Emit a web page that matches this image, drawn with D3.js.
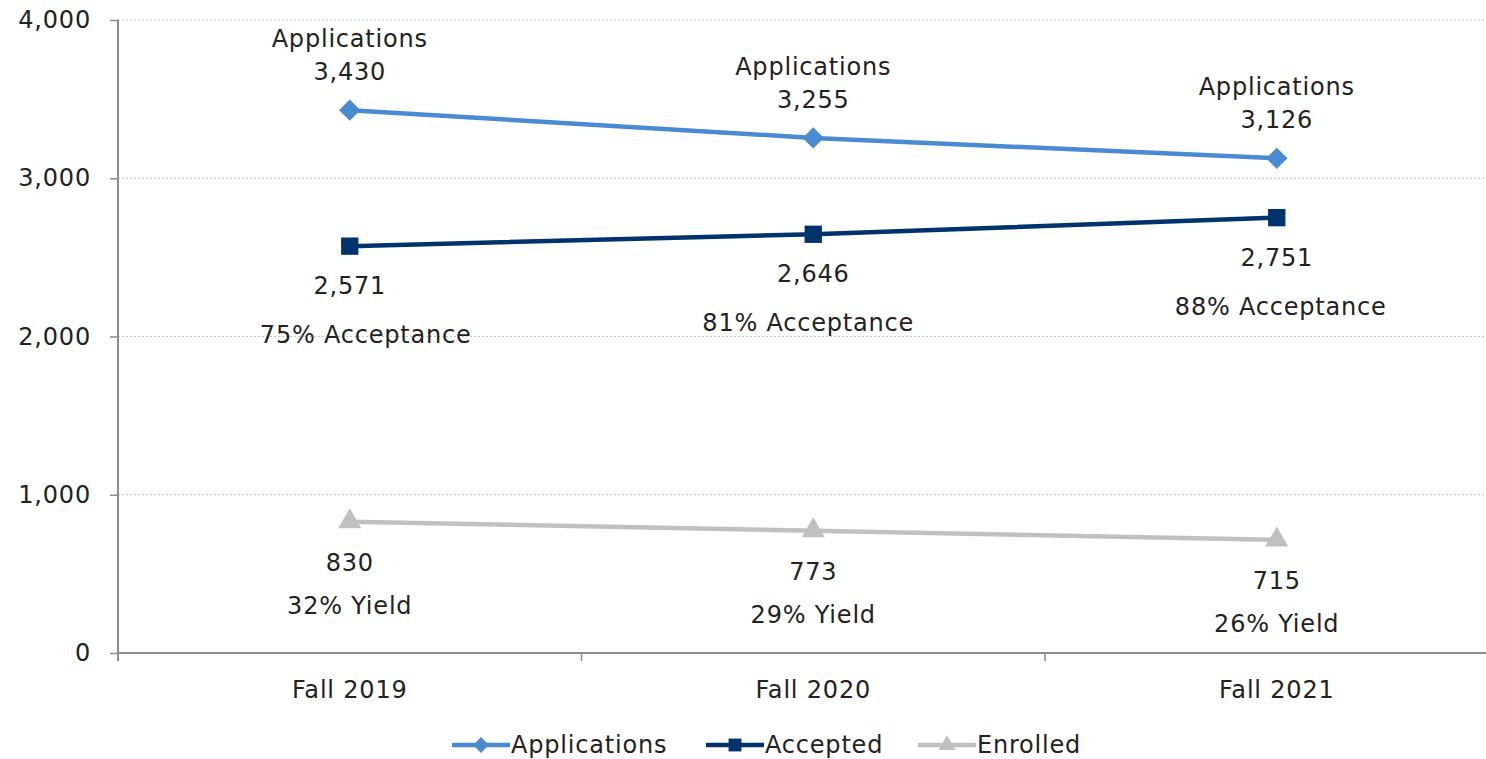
<!DOCTYPE html>
<html><head><meta charset="utf-8">
<script src="https://cdn.jsdelivr.net/npm/d3@7"></script>
<style>
html,body{margin:0;padding:0;background:#fff;}
text{font-family:"DejaVu Sans",Verdana,sans-serif;fill:#222;}
</style></head>
<body><svg id="c" width="1486" height="759"></svg>
<script>
const categories = ["Fall 2019", "Fall 2020", "Fall 2021"];
const applications = [3430, 3255, 3126];
const accepted = [2571, 2646, 2751];
const enrolled = [830, 773, 715];
const acceptanceLabels = ["75% Acceptance", "81% Acceptance", "88% Acceptance"];
const yieldLabels = ["32% Yield", "29% Yield", "26% Yield"];
const yTicks = [0, 1000, 2000, 3000, 4000];

(function () {
const svg = d3.select("#c");
const mLeft = 118, mTop = 20, mBottom = 653, band = 463.5;
const x = d3.scaleBand().domain(categories).range([mLeft, mLeft + band * 3]).padding(0);
const y = d3.scaleLinear().domain([0, 4000]).range([mBottom, mTop]);
const cx = c => x(c) + x.bandwidth() / 2;
const fs = 24, ls = "0.8px";

// gridlines
svg.append("g").selectAll("line").data(yTicks.filter(d => d > 0)).join("line")
  .attr("x1", mLeft).attr("x2", 1486).attr("y1", d => y(d)).attr("y2", d => y(d))
  .attr("stroke", "#c4c4c4").attr("stroke-width", 1).attr("stroke-dasharray", "2,2");

// y axis
const yAxis = svg.append("g").attr("transform", `translate(${mLeft},0)`)
  .call(d3.axisLeft(y).tickValues(yTicks).tickSize(8).tickPadding(19).tickFormat(d3.format(",")));
yAxis.select(".domain").attr("stroke", "#8c8c8c").attr("stroke-width", 2).attr("d", `M0,${mTop}V${mBottom + 8}`);
yAxis.selectAll(".tick line").attr("stroke", "#8c8c8c").attr("stroke-width", 1.5);
yAxis.selectAll("text").attr("font-size", fs).style("letter-spacing", ls).attr("fill", "#222")
  .attr("font-family", '"DejaVu Sans",Verdana,sans-serif');

// x axis
svg.append("line").attr("x1", mLeft).attr("x2", 1486).attr("y1", y(0)).attr("y2", y(0))
  .attr("stroke", "#8c8c8c").attr("stroke-width", 2);
svg.append("g").selectAll("line").data([1, 2]).join("line")
  .attr("x1", i => mLeft + band * i).attr("x2", i => mLeft + band * i)
  .attr("y1", y(0)).attr("y2", y(0) + 8).attr("stroke", "#8c8c8c").attr("stroke-width", 1.5);
svg.append("g").selectAll("text").data(categories).join("text")
  .attr("x", d => cx(d)).attr("y", 698).attr("text-anchor", "middle")
  .attr("font-size", fs).style("letter-spacing", ls).text(d => d);

const series = [
  {name: "Applications", values: applications, color: "#4a8ad0", sym: d3.symbolDiamond2, size: 290},
  {name: "Accepted", values: accepted, color: "#00336b", sym: d3.symbolSquare, size: 300},
  {name: "Enrolled", values: enrolled, color: "#c0c0c0", sym: d3.symbolTriangle, size: 230}
];
const line = d3.line().x((d, i) => cx(categories[i])).y(d => y(d));
series.forEach(s => {
  svg.append("path").datum(s.values).attr("d", line).attr("fill", "none")
    .attr("stroke", s.color).attr("stroke-width", 4.5);
  svg.append("g").selectAll("path").data(s.values).join("path")
    .attr("transform", (d, i) => `translate(${cx(categories[i])},${y(d)})`)
    .attr("d", d3.symbol().type(s.sym).size(s.size)).attr("fill", s.color);
});

const fmt = d3.format(",");
function label(xv, yv, t) {
  svg.append("text").attr("x", xv).attr("y", yv).attr("text-anchor", "middle")
    .attr("dominant-baseline", "central").attr("font-size", fs).style("letter-spacing", ls).text(t);
}
categories.forEach((c, i) => {
  const px = cx(c);
  label(px, y(applications[i]) - 71, "Applications");
  label(px, y(applications[i]) - 38, fmt(applications[i]));
  label(px, y(accepted[i]) + 40, fmt(accepted[i]));
  label(px + (i === 0 ? 16 : i === 1 ? -5 : 4), y(accepted[i]) + 89, acceptanceLabels[i]);
  label(px, y(enrolled[i]) + 41, fmt(enrolled[i]));
  label(px, y(enrolled[i]) + 84, yieldLabels[i]);
});

// legend
const legendX = [452, 706, 918];
const lg = svg.append("g");
series.forEach((s, i) => {
  const g = lg.append("g").attr("transform", `translate(${legendX[i]},745)`);
  g.append("line").attr("x1", 0).attr("x2", 58).attr("stroke", s.color).attr("stroke-width", 4.5);
  g.append("path").attr("transform", "translate(29,0)")
    .attr("d", d3.symbol().type(s.sym).size(s.size * 0.55)).attr("fill", s.color);
  g.append("text").attr("x", 59).attr("y", 0).attr("dominant-baseline", "central")
    .attr("font-size", fs).style("letter-spacing", ls).text(s.name);
});
})();
</script></body></html>
